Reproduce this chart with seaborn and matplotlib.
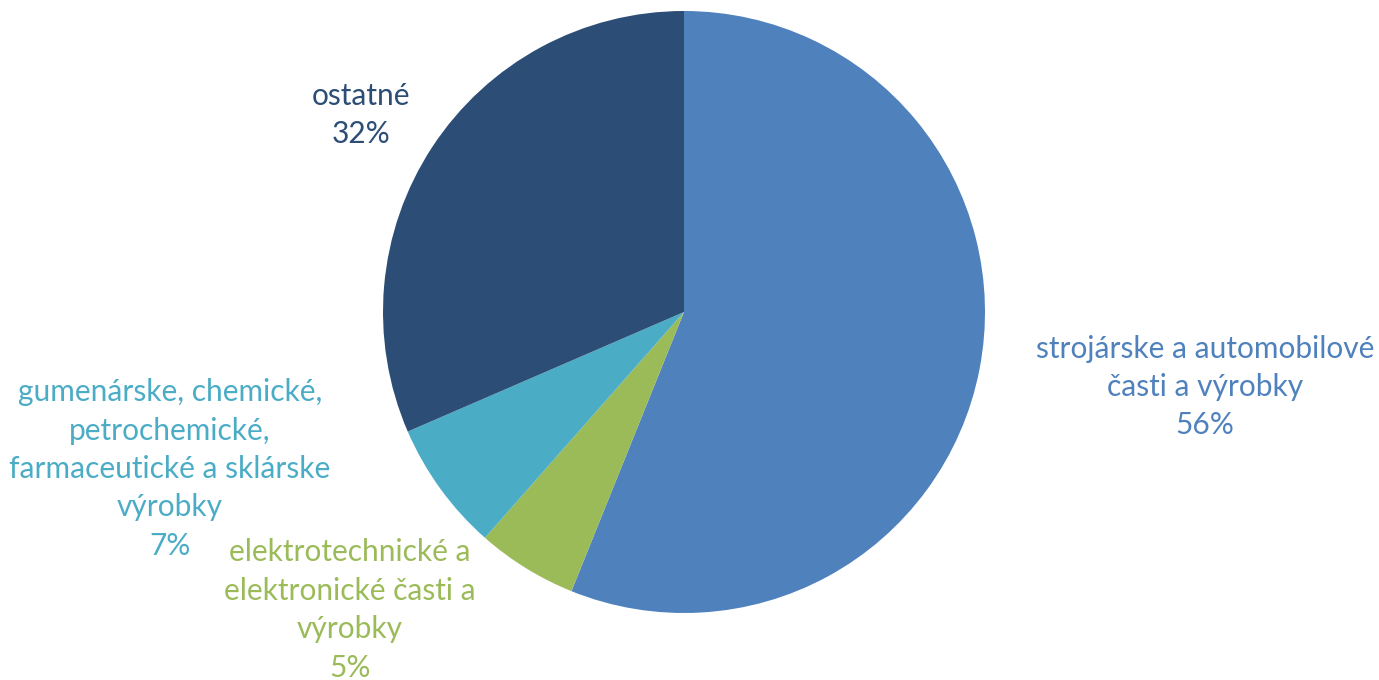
import matplotlib
matplotlib.use("Agg")
import matplotlib.pyplot as plt
import seaborn as sns

sns.set_theme(style="white")
plt.rcParams['font.family'] = ['Lato', 'DejaVu Sans']

categories = ["strojárske a automobilové\nčasti a výrobky",
              "elektrotechnické a\nelektronické časti a\nvýrobky",
              "gumenárske, chemické,\npetrochemické,\nfarmaceutické a sklárske\nvýrobky",
              "ostatné"]
shares = [56.1, 5.4, 7.0, 31.5]
share_labels = ["56%", "5%", "7%", "32%"]
colors = ["#4F81BD", "#9BBB59", "#4BACC6", "#2C4D75"]

# label centres (in pie-radius units), tuned against the picture
label_pos = [(1.731, -0.249), (-1.110, -0.990), (-1.708, -0.522), (-1.073, 0.654)]

fig = plt.figure(figsize=(13.79, 6.8), dpi=100)
ax = fig.add_axes([(684 - 301) / 1379, 1 - (312 + 301) / 680, 602 / 1379, 602 / 680])
ax.pie(shares, colors=colors, startangle=90, counterclock=False, radius=1,
       wedgeprops=dict(linewidth=0))
ax.set_xlim(-1, 1)
ax.set_ylim(-1, 1)
ax.set_aspect("equal")
ax.axis("off")

for cat, lab, col, (x, y) in zip(categories, share_labels, colors, label_pos):
    ax.text(x, y, f"{cat}\n{lab}", color=col, ha="center", va="center",
            fontsize=21.5, linespacing=1.45, clip_on=False)

fig.savefig("out.png", dpi=100)
